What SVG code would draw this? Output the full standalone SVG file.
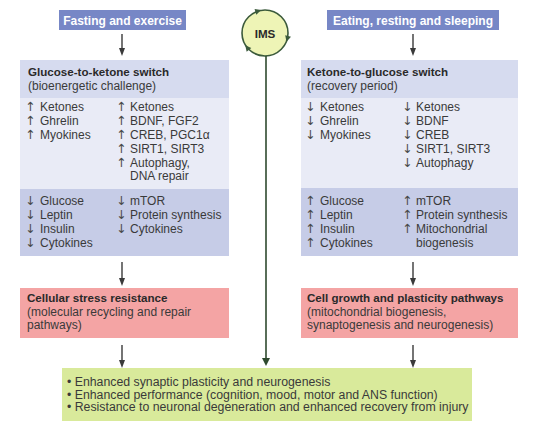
<svg xmlns="http://www.w3.org/2000/svg" width="544" height="429" viewBox="0 0 544 429">
<defs>
<marker id="ah" markerWidth="8" markerHeight="8" refX="4" refY="4" orient="auto" markerUnits="userSpaceOnUse">
<path d="M0,1 L8,4 L0,7 Z" fill="#3a3a3a"/>
</marker>
<path id="ct" d="M3,0 L-3,-3 L-3,3 Z" fill="#3b5a3b"/>
<style>
text{font-family:"Liberation Sans",Arial,sans-serif;font-size:12px;fill:#3a3a3a}
.b{font-weight:bold;fill:#2a2a2a;font-size:11.6px}
.w{font-weight:bold;fill:#ffffff}
.ar{font-family:"DejaVu Sans",sans-serif;font-size:12.5px;fill:#4a4a4a}
.g{font-size:12.3px}
.lab{fill:#7787c6}
.hd{fill:#d6dbef}
.md{fill:#e9ebf6}
.lo{fill:#c6cce7}
.pk{fill:#f4a4a4}
.gr{fill:#d9ea9b}
.cn{stroke:#3a3a3a;stroke-width:1.4;fill:none;marker-end:url(#ah)}
</style>
</defs>
<rect width="544" height="429" fill="#ffffff"/>

<g id="fasting">
<rect class="lab" x="59" y="10" width="127" height="20"/>
<text class="w" x="122.5" y="24.5" text-anchor="middle">Fasting and exercise</text>
</g>

<g id="eating">
<rect class="lab" x="327" y="10" width="172" height="20"/>
<text class="w" x="413" y="24.5" text-anchor="middle">Eating, resting and sleeping</text>
</g>

<g id="ims">
<circle cx="265" cy="33" r="23" fill="#eef4b6" stroke="#3b5a3b" stroke-width="1.6"/>
<use href="#ct" transform="translate(287.3,38.8) rotate(105)"/>
<use href="#ct" transform="translate(247.1,47.5) rotate(231)"/>
<use href="#ct" transform="translate(258.3,11) rotate(-17)"/>
<text class="b" x="265" y="37.5" text-anchor="middle">IMS</text>
</g>

<g id="glucose-to-ketone">
<rect class="hd" x="20" y="60" width="209" height="38"/>
<rect class="md" x="20" y="98" width="209" height="91"/>
<rect class="lo" x="20" y="189" width="209" height="67"/>
<text class="b" x="28" y="76">Glucose-to-ketone switch</text>
<text x="28" y="90">(bioenergetic challenge)</text>
<text y="111"><tspan class="ar" x="25">↑</tspan><tspan x="40">Ketones</tspan></text>
<text y="125"><tspan class="ar" x="25">↑</tspan><tspan x="40">Ghrelin</tspan></text>
<text y="139"><tspan class="ar" x="25">↑</tspan><tspan x="40">Myokines</tspan></text>
<text y="111"><tspan class="ar" x="116">↑</tspan><tspan x="130">Ketones</tspan></text>
<text y="125"><tspan class="ar" x="116">↑</tspan><tspan x="130">BDNF, FGF2</tspan></text>
<text y="139"><tspan class="ar" x="116">↑</tspan><tspan x="130">CREB, PGC1α</tspan></text>
<text y="153"><tspan class="ar" x="116">↑</tspan><tspan x="130">SIRT1, SIRT3</tspan></text>
<text y="166.5"><tspan class="ar" x="116">↑</tspan><tspan x="130">Autophagy,</tspan></text>
<text x="130" y="180">DNA repair</text>
<text y="205"><tspan class="ar" x="25">↓</tspan><tspan x="40">Glucose</tspan></text>
<text y="219"><tspan class="ar" x="25">↓</tspan><tspan x="40">Leptin</tspan></text>
<text y="233"><tspan class="ar" x="25">↓</tspan><tspan x="40">Insulin</tspan></text>
<text y="247"><tspan class="ar" x="25">↓</tspan><tspan x="40">Cytokines</tspan></text>
<text y="205"><tspan class="ar" x="116">↓</tspan><tspan x="130">mTOR</tspan></text>
<text y="219"><tspan class="ar" x="116">↓</tspan><tspan x="130">Protein synthesis</tspan></text>
<text y="233"><tspan class="ar" x="116">↓</tspan><tspan x="130">Cytokines</tspan></text>
</g>

<g id="ketone-to-glucose">
<rect class="hd" x="301" y="60" width="217" height="38"/>
<rect class="md" x="301" y="98" width="217" height="90"/>
<rect class="lo" x="301" y="188" width="217" height="68"/>
<text class="b" x="307" y="76">Ketone-to-glucose switch</text>
<text x="307" y="90">(recovery period)</text>
<text y="111"><tspan class="ar" x="305">↓</tspan><tspan x="320">Ketones</tspan></text>
<text y="125"><tspan class="ar" x="305">↓</tspan><tspan x="320">Ghrelin</tspan></text>
<text y="139"><tspan class="ar" x="305">↓</tspan><tspan x="320">Myokines</tspan></text>
<text y="111"><tspan class="ar" x="402">↓</tspan><tspan x="416">Ketones</tspan></text>
<text y="125"><tspan class="ar" x="402">↓</tspan><tspan x="416">BDNF</tspan></text>
<text y="139"><tspan class="ar" x="402">↓</tspan><tspan x="416">CREB</tspan></text>
<text y="153"><tspan class="ar" x="402">↓</tspan><tspan x="416">SIRT1, SIRT3</tspan></text>
<text y="166.5"><tspan class="ar" x="402">↓</tspan><tspan x="416">Autophagy</tspan></text>
<text y="205"><tspan class="ar" x="305">↑</tspan><tspan x="320">Glucose</tspan></text>
<text y="219"><tspan class="ar" x="305">↑</tspan><tspan x="320">Leptin</tspan></text>
<text y="233"><tspan class="ar" x="305">↑</tspan><tspan x="320">Insulin</tspan></text>
<text y="247"><tspan class="ar" x="305">↑</tspan><tspan x="320">Cytokines</tspan></text>
<text y="205"><tspan class="ar" x="402">↑</tspan><tspan x="416">mTOR</tspan></text>
<text y="219"><tspan class="ar" x="402">↑</tspan><tspan x="416">Protein synthesis</tspan></text>
<text y="233"><tspan class="ar" x="402">↑</tspan><tspan x="416">Mitochondrial</tspan></text>
<text x="416" y="247">biogenesis</text>
</g>

<g id="stress-resistance">
<rect class="pk" x="20" y="288" width="209" height="50"/>
<text class="b" x="27" y="302">Cellular stress resistance</text>
<text x="27" y="315.5">(molecular recycling and repair</text>
<text x="27" y="329">pathways)</text>
</g>

<g id="growth-plasticity">
<rect class="pk" x="301" y="288" width="217" height="50"/>
<text class="b" x="307" y="302">Cell growth and plasticity pathways</text>
<text x="307" y="315.5">(mitochondrial biogenesis,</text>
<text x="307" y="329">synaptogenesis and neurogenesis)</text>
</g>

<g id="outcomes">
<rect class="gr" x="62" y="368" width="410" height="53"/>
<text class="g" x="67" y="386">• Enhanced synaptic plasticity and neurogenesis</text>
<text class="g" x="67" y="398.5">• Enhanced performance (cognition, mood, motor and ANS function)</text>
<text class="g" x="67" y="411">• Resistance to neuronal degeneration and enhanced recovery from injury</text>
</g>

<g id="connectors">
<line class="cn" x1="122" y1="34" x2="122" y2="52"/>
<line class="cn" x1="413" y1="34" x2="413" y2="52"/>
<line class="cn" x1="122" y1="262" x2="122" y2="282"/>
<line class="cn" x1="413" y1="262" x2="413" y2="282"/>
<line class="cn" x1="122" y1="345" x2="122" y2="364"/>
<line class="cn" x1="413" y1="345" x2="413" y2="364"/>
<line x1="266" y1="56" x2="266" y2="362" stroke="#2f4a2f" stroke-width="1.6"/>
<path d="M262,358 L270,358 L266,366 Z" fill="#2f4a2f"/>
</g>
</svg>
